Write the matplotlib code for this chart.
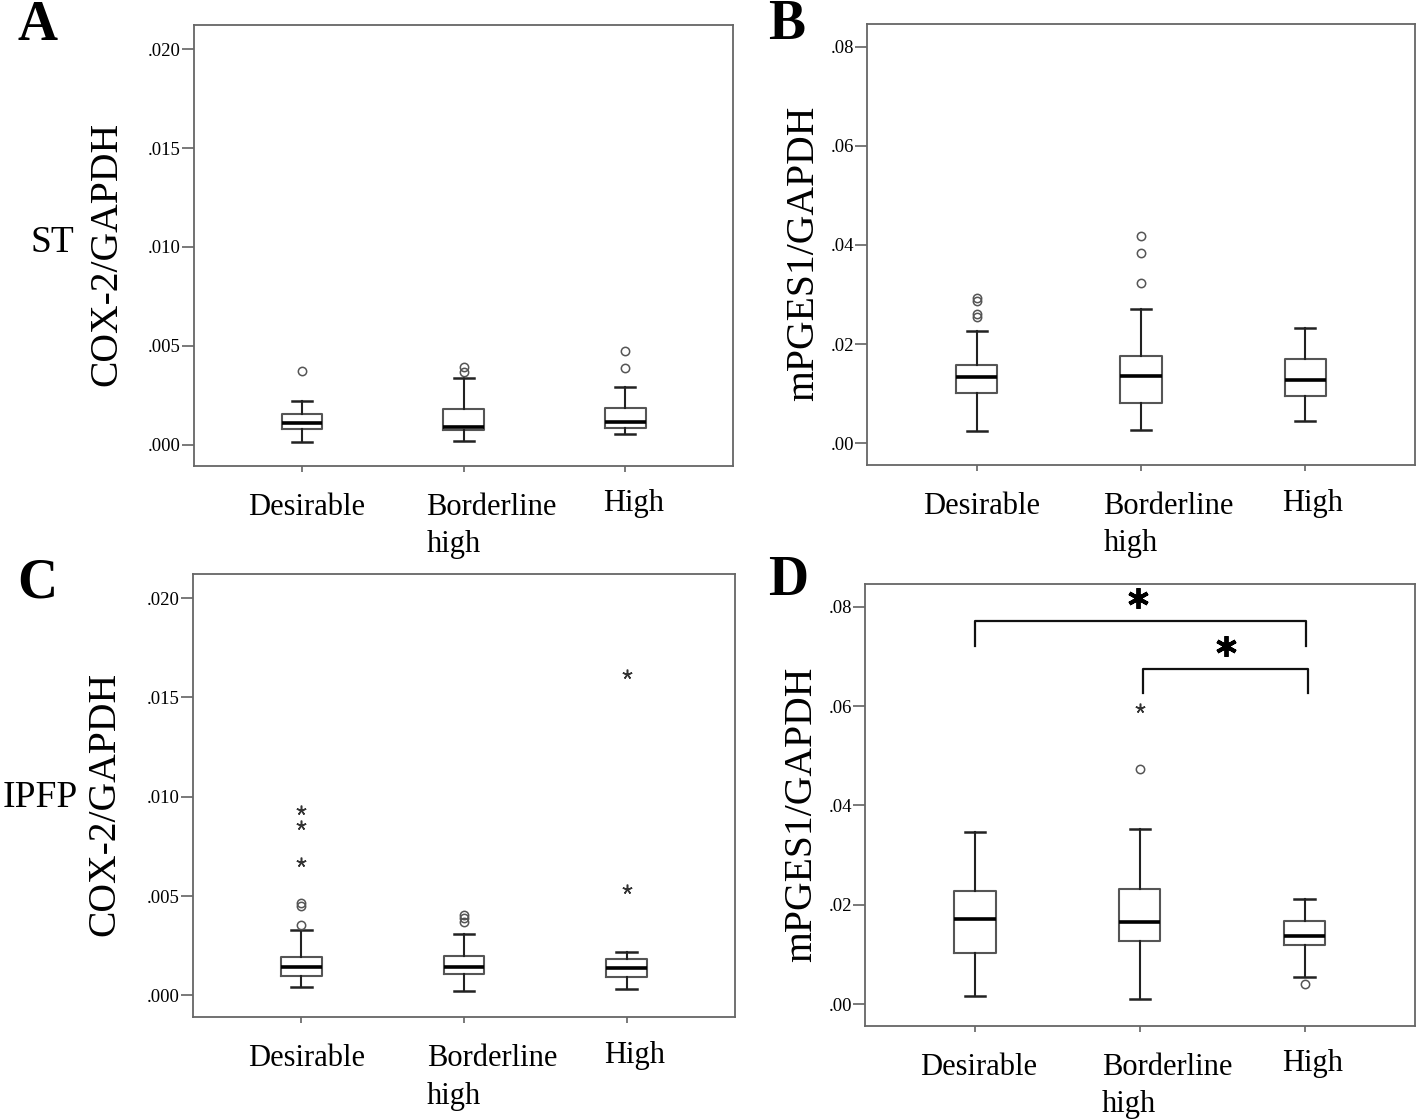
import matplotlib
matplotlib.use("Agg")
import matplotlib.pyplot as plt
from matplotlib.ticker import FuncFormatter

plt.rcParams['font.family'] = ['Liberation Serif', 'DejaVu Serif']

groups = ["Desirable", "Borderline\nhigh", "High"]
label_x = [0.67, 1.77, 2.86]

# A: ST, COX-2
a_q1 = [0.00081, 0.00072, 0.00086]
a_med = [0.00111, 0.00089, 0.00112]
a_q3 = [0.00155, 0.00181, 0.00185]
a_lo = [0.00015, 0.00017, 0.00055]
a_hi = [0.00222, 0.00336, 0.00292]
a_circles = [[0.00374], [0.00391, 0.00369], [0.00472, 0.00386]]
a_stars = [[], [], []]

# B: ST, mPGES1
b_q1 = [0.01013, 0.00806, 0.00953]
b_med = [0.01329, 0.01362, 0.01269]
b_q3 = [0.01583, 0.01758, 0.01704]
b_lo = [0.00242, 0.00268, 0.00449]
b_hi = [0.02262, 0.02705, 0.02322]
b_circles = [[0.0292, 0.02866, 0.02598, 0.02544], [0.0418, 0.03846, 0.03235], []]
b_stars = [[], [], []]

# C: IPFP, COX-2
c_q1 = [0.00097, 0.00106, 0.00094]
c_med = [0.00141, 0.00141, 0.00136]
c_q3 = [0.00195, 0.00201, 0.00181]
c_lo = [0.00040, 0.00022, 0.00032]
c_hi = [0.00329, 0.00307, 0.00217]
c_circles = [[0.00463, 0.00448, 0.00356], [0.00406, 0.00389, 0.00371], []]
c_stars = [[0.00931, 0.00857, 0.00673], [], [0.01616, 0.00535]]

# D: IPFP, mPGES1
d_q1 = [0.0102, 0.01262, 0.01182]
d_med = [0.01718, 0.01651, 0.0137]
d_q3 = [0.0227, 0.02316, 0.01671]
d_lo = [0.00161, 0.0010, 0.00537]
d_hi = [0.03464, 0.03518, 0.02115]
d_circles = [[], [0.0474], [0.00403]]
d_stars = [[], [0.05955], []]

# significance brackets in D
brk1_x = [1.0, 1.0, 3.01, 3.01]
brk1_y = [0.0721, 0.0771, 0.0771, 0.0721]
brk2_x = [2.02, 2.02, 3.02, 3.02]
brk2_y = [0.0626, 0.0675, 0.0675, 0.0626]
sig_x = [1.99, 2.52]
sig_y = [0.0818, 0.0722]

fig = plt.figure(figsize=(14.18, 11.20), dpi=100)

axA = fig.add_axes([0.1368, 0.5842, 0.3803, 0.3935])
axB = fig.add_axes([0.6116, 0.5848, 0.3861, 0.3938])
axC = fig.add_axes([0.1361, 0.0917, 0.3822, 0.3961])
axD = fig.add_axes([0.6100, 0.0842, 0.3877, 0.3941])


def draw_panel(ax, q1, med, q3, lo, hi, circles, stars, ylim, yticks, fmt, ylabel, ylab_x):
    stats = []
    for i in range(3):
        stats.append(dict(q1=q1[i], med=med[i], q3=q3[i], whislo=lo[i], whishi=hi[i],
                          fliers=circles[i]))
    ax.bxp(stats, positions=[1, 2, 3], widths=0.25, capwidths=0.125,
           boxprops=dict(color='#555555', lw=1.5),
           medianprops=dict(color='black', lw=2.6),
           whiskerprops=dict(color='#222222', lw=1.5),
           capprops=dict(color='#222222', lw=1.8),
           flierprops=dict(marker='o', mfc='none', mec='#555555', ms=6, mew=1.1))
    for i in range(3):
        if stars[i]:
            ax.plot([i + 1] * len(stars[i]), stars[i], ls='none', marker=(5, 2, 0),
                    ms=7, mec='#333333', mew=1.1)
    ax.set_xlim(0.333, 3.667)
    ax.set_ylim(*ylim)
    ax.set_yticks(yticks)
    ax.yaxis.set_major_formatter(FuncFormatter(lambda v, p: (fmt % v).replace("0.", ".", 1)))
    ax.set_xticks([1, 2, 3])
    ax.set_xticklabels([])
    ax.tick_params(axis='y', direction='out', length=8.5, width=1.1, color='#555555',
                   labelsize=13.5, pad=1)
    ax.tick_params(axis='x', direction='out', length=4.5, width=1.1, color='#555555')
    for s in ax.spines.values():
        s.set_color('#666666')
        s.set_linewidth(1.3)
    for i, g in enumerate(groups):
        dy = -17 if i == 2 else -19.5
        ax.annotate(g, xy=(label_x[i], 0), xycoords=('data', 'axes fraction'),
                    xytext=(0, dy), textcoords='offset points', ha='left', va='top',
                    fontsize=22, linespacing=1.37, multialignment='left')
    ax.set_ylabel(ylabel, fontsize=28.5)
    ax.yaxis.set_label_coords(ylab_x, 0.48)


draw_panel(axA, a_q1, a_med, a_q3, a_lo, a_hi, a_circles, a_stars,
           (-0.00107, 0.02123), [0, 0.005, 0.010, 0.015, 0.020], "%.3f", "COX-2/GAPDH", -0.128)
draw_panel(axB, b_q1, b_med, b_q3, b_lo, b_hi, b_circles, b_stars,
           (-0.00438, 0.08455), [0, 0.02, 0.04, 0.06, 0.08], "%.2f", "mPGES1/GAPDH", -0.082)
draw_panel(axC, c_q1, c_med, c_q3, c_lo, c_hi, c_circles, c_stars,
           (-0.00110, 0.02123), [0, 0.005, 0.010, 0.015, 0.020], "%.3f", "COX-2/GAPDH", -0.128)
draw_panel(axD, d_q1, d_med, d_q3, d_lo, d_hi, d_circles, d_stars,
           (-0.00437, 0.08455), [0, 0.02, 0.04, 0.06, 0.08], "%.2f", "mPGES1/GAPDH", -0.082)

axD.plot(brk1_x, brk1_y, color='#111111', lw=1.6)
axD.plot(brk2_x, brk2_y, color='#111111', lw=1.6)
axD.plot(sig_x, sig_y, ls='none', marker=(6, 2, 0), ms=15, mec='black', mew=2.8)

# panel letters and row labels
for letter, x, y in [("A", 37, 40), ("B", 787, 39), ("C", 37, 598), ("D", 788, 595)]:
    fig.text(x / 1418, 1 - y / 1120, letter, fontsize=40, fontweight='bold',
             ha='center', va='baseline')
fig.text(52 / 1418, 1 - 243 / 1120, "ST", fontsize=27, ha='center', va='center')
fig.text(40 / 1418, 1 - 798 / 1120, "IPFP", fontsize=27, ha='center', va='center')

fig.savefig("out.png", dpi=100, facecolor='white')
